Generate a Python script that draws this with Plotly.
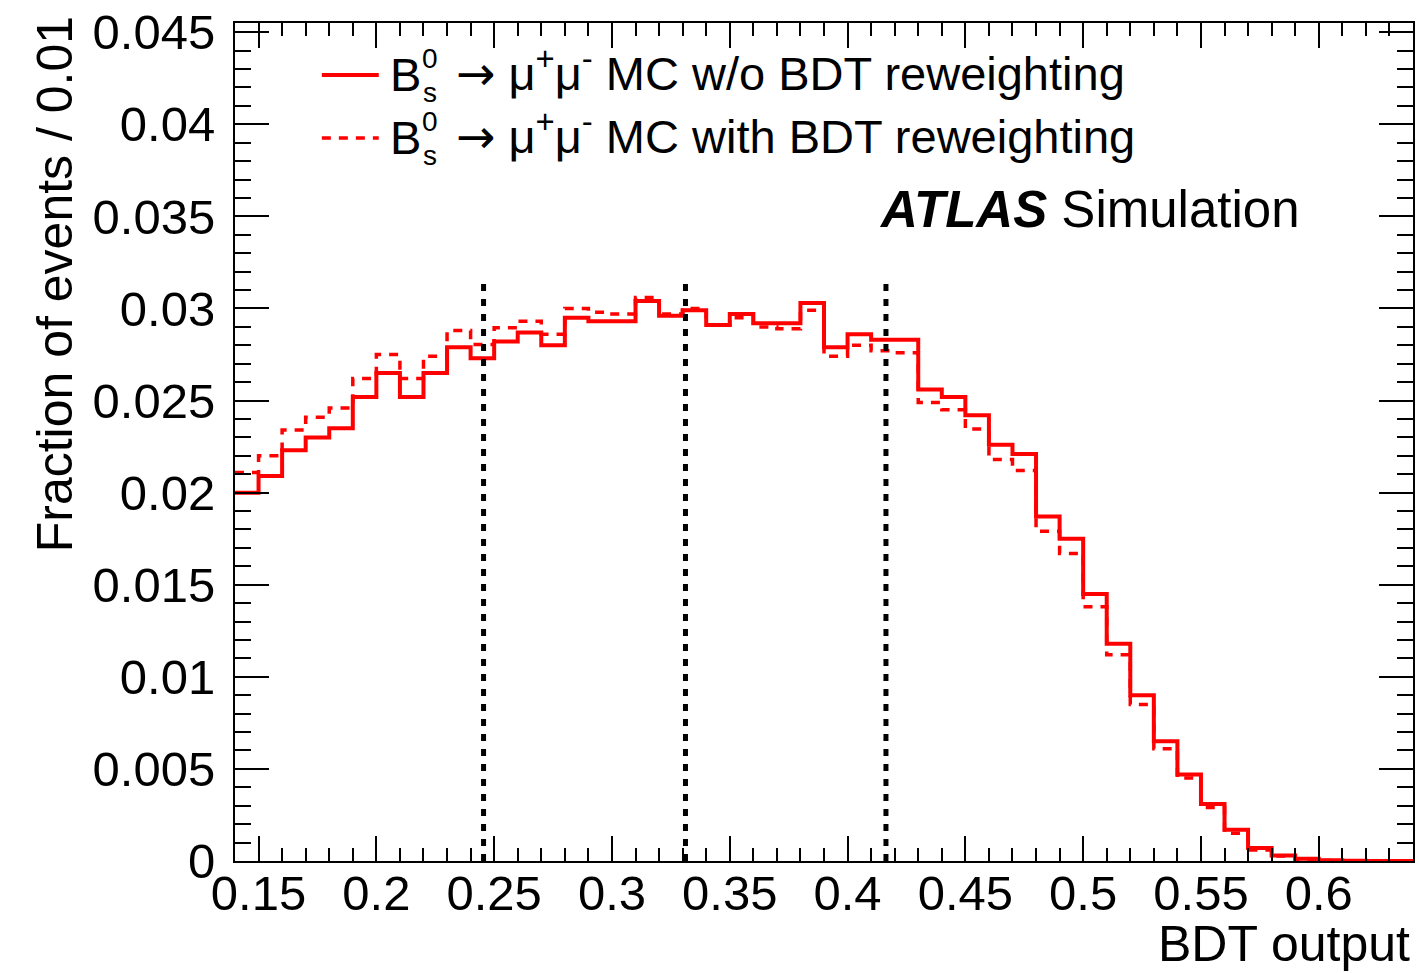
import plotly.graph_objects as go

# Binning of the BDT output histograms
bin_low = 0.14
bin_width = 0.01
n_bins = 50

# Fraction of events per bin (x 1e-3), B_s -> mu mu MC without BDT reweighting
frac_no_rw = [
    20.0, 20.9, 22.3, 23.0, 23.5, 25.2, 26.5, 25.2, 26.5, 27.9,
    27.3, 28.2, 28.7, 28.0, 29.5, 29.3, 29.3, 30.4, 29.6, 29.9,
    29.1, 29.7, 29.2, 29.2, 30.3, 27.9, 28.6, 28.3, 28.3, 25.6,
    25.2, 24.2, 22.6, 22.1, 18.7, 17.5, 14.5, 11.8, 9.0, 6.5,
    4.7, 3.1, 1.7, 0.7, 0.3, 0.12, 0.04, 0.01, 0.0, 0.0,
]

# Fraction of events per bin (x 1e-3), B_s -> mu mu MC with BDT reweighting
frac_rw = [
    21.1, 22.0, 23.4, 24.1, 24.6, 26.2, 27.5, 26.2, 27.4, 28.8,
    28.05, 28.95, 29.3, 28.6, 30.0, 29.8, 29.7, 30.6, 29.7, 30.0,
    29.1, 29.5, 29.0, 28.9, 29.9, 27.4, 28.0, 27.7, 27.6, 24.9,
    24.5, 23.45, 21.8, 21.2, 17.9, 16.7, 13.8, 11.2, 8.5, 6.1,
    4.5, 2.9, 1.5, 0.6, 0.27, 0.10, 0.03, 0.01, 0.0, 0.0,
]

# BDT interval boundaries
bdt_boundaries = [0.2455, 0.3312, 0.4163]
boundary_top = 0.0314

x_range = [0.14, 0.64]
y_range = [0.0, 0.0455]

edges = [round(bin_low + i * bin_width, 4) for i in range(n_bins + 1)]


def step_y(vals):
    v = [f * 1e-3 for f in vals]
    return v + [v[-1]]


RED = "#ff0000"
FONT = "Liberation Sans, Arial, Helvetica, sans-serif"
ARROW = '<span style="font-family:DejaVu Sans">→</span>'

fig = go.Figure()
fig.add_trace(go.Scatter(
    x=edges, y=step_y(frac_no_rw), mode="lines", line_shape="hv",
    line=dict(color=RED, width=4), showlegend=False,
    name="B_s -> mu mu MC w/o BDT reweighting",
))
fig.add_trace(go.Scatter(
    x=edges, y=step_y(frac_rw), mode="lines", line_shape="hv",
    line=dict(color=RED, width=3.5, dash="9px,8px"), showlegend=False,
    name="B_s -> mu mu MC with BDT reweighting",
))

# Vertical dotted boundaries
for xb in bdt_boundaries:
    fig.add_shape(type="line", x0=xb, x1=xb, y0=0, y1=boundary_top,
                  xref="x", yref="y", layer="above",
                  line=dict(color="black", width=5, dash="7px,8px"))

# Page geometry for paper-coordinate placement
W, H = 1419, 973
L, R, T, B = 235, 4, 23, 111.5
pw, ph = W - L - R, H - T - B


def px(xp):
    return (xp - L) / pw


def py(yp):
    return (H - B - yp) / ph


# Legend drawn by hand
legend_rows = [
    (75, "solid", "MC w/o BDT reweighting"),
    (138, "9px,8px", "MC with BDT reweighting"),
]
for yrow, dash, label in legend_rows:
    fig.add_shape(type="line", xref="paper", yref="paper",
                  x0=px(322), x1=px(379), y0=py(yrow), y1=py(yrow),
                  line=dict(color=RED, width=4 if dash == "solid" else 3.5, dash=dash))
    fig.add_annotation(xref="paper", yref="paper", x=px(388), y=py(yrow),
                       xanchor="left", yanchor="middle", showarrow=False,
                       text="B", font=dict(family=FONT, size=47, color="black"))
    fig.add_annotation(xref="paper", yref="paper", x=px(420), y=py(yrow - 16),
                       xanchor="left", yanchor="middle", showarrow=False,
                       text="0", font=dict(family=FONT, size=28, color="black"))
    fig.add_annotation(xref="paper", yref="paper", x=px(421), y=py(yrow + 18),
                       xanchor="left", yanchor="middle", showarrow=False,
                       text="s", font=dict(family=FONT, size=28, color="black"))
    fig.add_annotation(xref="paper", yref="paper", x=px(454), y=py(yrow - 4),
                       xanchor="left", yanchor="middle", showarrow=False,
                       text=ARROW + " μ<sup>+</sup>μ<sup>-</sup> " + label,
                       font=dict(family=FONT, size=47, color="black"))

fig.add_annotation(xref="paper", yref="paper", x=px(878), y=py(210),
                   xanchor="left", yanchor="middle", showarrow=False,
                   text="<b><i>ATLAS</i></b> Simulation",
                   font=dict(family=FONT, size=51, color="black"))

# Axis titles (ROOT style: right / top aligned)
fig.add_annotation(xref="paper", yref="paper", x=px(1414), y=py(945),
                   xanchor="right", yanchor="middle", showarrow=False,
                   text="BDT output", font=dict(family=FONT, size=50, color="black"))
fig.add_annotation(xref="paper", yref="paper", x=px(55), y=py(14),
                   xanchor="center", yanchor="top", showarrow=False, textangle=-90,
                   text="Fraction of events / 0.01",
                   font=dict(family=FONT, size=50, color="black"))

fig.update_layout(
    width=W, height=H,
    margin=dict(l=L, r=R, t=T, b=B, pad=0),
    paper_bgcolor="white", plot_bgcolor="white",
    font=dict(family=FONT, size=49, color="black"),
)
fig.update_xaxes(
    range=x_range, dtick=0.05, tick0=0.15, ticks="inside", ticklen=25, tickwidth=2,
    tickcolor="black", showline=True, linecolor="black", linewidth=2, mirror="allticks",
    showgrid=False, zeroline=False, tickfont=dict(size=49), ticklabelstandoff=-12,
    minor=dict(dtick=0.01, tick0=0.14, ticks="inside", ticklen=13, tickwidth=2,
               tickcolor="black", showgrid=False),
)
fig.update_yaxes(
    range=y_range, dtick=0.005, tick0=0, ticks="inside", ticklen=34, tickwidth=2,
    tickcolor="black", showline=True, linecolor="black", linewidth=2, mirror="allticks",
    showgrid=False, zeroline=False, tickfont=dict(size=49), ticklabelstandoff=8,
    minor=dict(dtick=0.001, tick0=0, ticks="inside", ticklen=16, tickwidth=2,
               tickcolor="black", showgrid=False),
)

fig.write_html("out.html")
